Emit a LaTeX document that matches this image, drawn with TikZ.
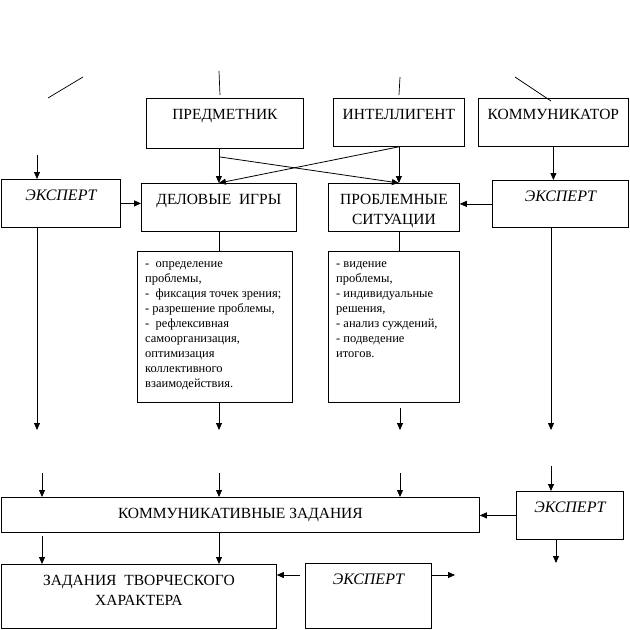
\documentclass[tikz,border=0pt]{standalone}
\usepackage{fontspec}
\setmainfont{Liberation Serif}
\usetikzlibrary{arrows.meta,calc}
\begin{document}
\begin{tikzpicture}[x=1pt,y=-1pt]
	\tikzstyle{box} = [draw, line width=0.8pt, anchor=north west, inner sep=0pt]
	\tikzstyle{lbl} = [anchor=north, inner sep=0pt, yshift=-11pt, align=center, font=\fontsize{15.5}{20}\selectfont]
	\tikzstyle{ilbl} = [lbl, font=\fontsize{16}{20}\selectfont\itshape]
	\tikzstyle{lst} = [anchor=north west, inner sep=0pt, xshift=8pt, yshift=-10pt, align=left, font=\fontsize{12.5}{15}\selectfont]
	\tikzstyle{arr} = [line width=0.8pt, -{Triangle[length=7pt,width=6pt]}]
	\tikzstyle{ln} = [line width=0.7pt]
	\useasboundingbox (0,0) rectangle (630,630);
	\node[box, minimum width=157pt, minimum height=50pt, label={[lbl]north:ПРЕДМЕТНИК}] (predm) at (146,98) {};
	\node[box, minimum width=131pt, minimum height=48pt, label={[lbl]north:ИНТЕЛЛИГЕНТ}] (intel) at (333,98) {};
	\node[box, minimum width=150pt, minimum height=48pt, label={[lbl]north:КОММУНИКАТОР}] (komm) at (478,98) {};
	\node[box, minimum width=119pt, minimum height=48pt, label={[ilbl]north:ЭКСПЕРТ}] (eks1) at (1,179) {};
	\node[box, minimum width=155pt, minimum height=48pt, label={[lbl]north:ДЕЛОВЫЕ\ \ ИГРЫ}] (delo) at (141,183) {};
	\node[box, minimum width=131pt, minimum height=48pt, label={[lbl]north:ПРОБЛЕМНЫЕ\\СИТУАЦИИ}] (prob) at (328,183) {};
	\node[box, minimum width=136pt, minimum height=47pt, label={[ilbl]north:ЭКСПЕРТ}] (eks2) at (492,180) {};
	\node[box, minimum width=155pt, minimum height=151pt, label={[lst]north west:-\ \ определение\\проблемы,\\-\ \ фиксация точек зрения;\\- разрешение проблемы,\\-\ \ рефлексивная\\самоорганизация,\\оптимизация\\коллективного\\взаимодействия.}] (list1) at (137,251) {};
	\node[box, minimum width=131pt, minimum height=151pt, label={[lst]north west:- видение\\проблемы,\\- индивидуальные\\решения,\\- анализ суждений,\\- подведение\\итогов.}] (list2) at (328,251) {};
	\node[box, minimum width=478pt, minimum height=35pt, label={[lbl]north:КОММУНИКАТИВНЫЕ ЗАДАНИЯ}] (kz) at (1,497) {};
	\node[box, minimum width=107pt, minimum height=48pt, label={[ilbl]north:ЭКСПЕРТ}] (eks3) at (516,491) {};
	\node[box, minimum width=275pt, minimum height=64pt, label={[lbl]north:ЗАДАНИЯ\ \ ТВОРЧЕСКОГО\\ХАРАКТЕРА}] (tvor) at (1,564) {};
	\node[box, minimum width=126pt, minimum height=65pt, label={[ilbl]north:ЭКСПЕРТ}] (eks4) at (305,563) {};
	\coordinate (t1a) at (48,98);
	\coordinate (t1b) at (83,77);
	\coordinate (t2a) at (219,71);
	\coordinate (t2b) at (220,95);
	\coordinate (t3a) at (400,77);
	\coordinate (t3b) at (399,95);
	\coordinate (t4a) at (515,77);
	\coordinate (t4b) at (551,101);
	\draw[ln] (t1a)--(t1b);
	\draw[ln] (t2a)--(t2b);
	\draw[ln] (t3a)--(t3b);
	\draw[ln] (t4a)--(t4b);
	\coordinate (e1in) at (37,155);
	\coordinate (e1out) at (37,430);
	\coordinate (l1out) at (219,430);
	\coordinate (l2out) at (400,430);
	\coordinate (e2out) at (551,430);
	\coordinate (k1in) at (42,473);
	\coordinate (k2in) at (219,473);
	\coordinate (k3in) at (400,473);
	\coordinate (e3in) at (551,466);
	\coordinate (e3out) at (556,563);
	\coordinate (e4in) at (300,575);
	\coordinate (e4out) at (455,575);
	\draw[arr] (e1in)--(e1in |- eks1.north);
	\draw[arr] (delo.north |- predm.south)--(delo.north);
	\draw[arr] ($(delo.north |- predm.south)+(0,8)$)--(prob.north -| intel.south);
	\draw[arr] (intel.south)--(delo.north);
	\draw[arr] (intel.south)--(intel.south |- prob.north);
	\draw[arr] (komm.south)--(komm.south |- eks2.north);
	\draw[arr] (eks1.east)--(eks1.east -| delo.west);
	\draw[arr] (eks2.west)--(eks2.west -| prob.east);
	\draw[ln] (delo.south)--(delo.south |- list1.north);
	\draw[ln] (prob.south -| intel.south)--(list2.north -| intel.south);
	\draw[arr] (eks1.south -| e1out)--(e1out);
	\draw[arr] (list1.south -| l1out)--(l1out);
	\draw[arr] ($(list2.south -| l2out)+(0,5)$)--(l2out);
	\draw[arr] (eks2.south -| e2out)--(e2out);
	\draw[arr] (k1in)--(k1in |- kz.north);
	\draw[arr] (k2in)--(k2in |- kz.north);
	\draw[arr] (k3in)--(k3in |- kz.north);
	\draw[arr] (e3in)--(e3in |- eks3.north);
	\draw[arr] (eks3.west)--(eks3.west -| kz.east);
	\draw[arr] (eks3.south -| e3out)--(e3out);
	\draw[arr] ($(kz.south -| k1in)+(0,3)$)--(k1in |- tvor.north);
	\draw[arr] (kz.south -| k2in)--(k2in |- tvor.north);
	\draw[arr] (e4in)--(e4in -| tvor.east);
	\draw[arr] (eks4.east |- e4out)--(e4out);
\end{tikzpicture}
\end{document}
